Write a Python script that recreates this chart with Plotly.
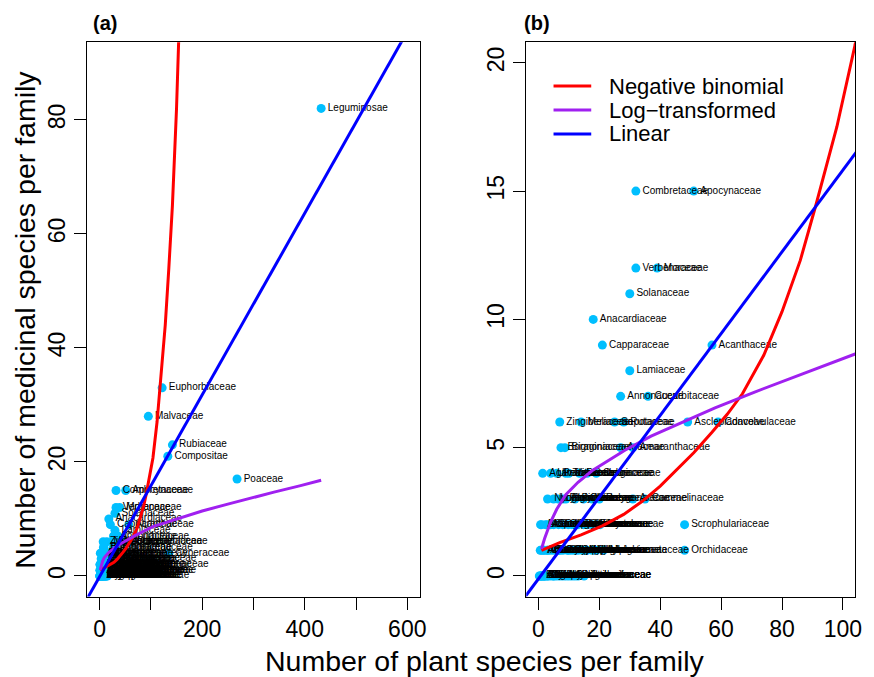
import plotly.graph_objects as go

W, H = 874, 677

# ---------------- data ----------------
families = [
    "Leguminosae", "Poaceae", "Rubiaceae", "Compositae", "Euphorbiaceae", "Malvaceae", "Cyperaceae",
    "Combretaceae", "Apocynaceae",
    "Verbenaceae", "Moraceae",
    "Solanaceae",
    "Anacardiaceae",
    "Capparaceae", "Acanthaceae",
    "Lamiaceae",
    "Annonaceae", "Cucurbitaceae",
    "Zingiberaceae", "Meliaceae", "Sapotaceae", "Rutaceae", "Asclepiadaceae", "Convolvulaceae",
    "Boraginaceae", "Bignoniaceae", "Araceae", "Amaranthaceae",
    "Agavaceae", "Pedaliaceae", "Vitaceae", "Plumbaginaceae", "Celastraceae", "Ochnaceae",
    "Ulmaceae", "Turneraceae",
    "Loganiaceae", "Lythraceae", "Polygalaceae", "Oleaceae", "Iridaceae", "Arecaceae", "Commelinaceae",
    "Nyctaginaceae", "Passifloraceae", "Proteaceae", "Polygonaceae",
    "Aloaceae", "Asparagaceae", "Chrysobalanaceae", "Dilleniaceae", "Lecythidaceae", "Rhamnaceae",
    "Opiliaceae", "Salicaceae", "Myrtaceae", "Scrophulariaceae",
    "Bromeliaceae", "Cecropiaceae", "Dioscoreaceae", "Gesneriaceae", "Piperaceae", "Portulacaceae",
    "Simaroubaceae", "Urticaceae",
    "Aizoaceae", "Amaryllidaceae", "Basellaceae", "Burseraceae", "Caryophyllaceae", "Crassulaceae",
    "Clusiaceae", "Icacinaceae", "Connaraceae", "Hypericaceae", "Lauraceae", "Melastomataceae", "Orchidaceae",
    "Apiaceae", "Cactaceae", "Chenopodiaceae", "Dichapetalaceae", "Ctenolophonaceae", "Erythroxylaceae",
    "Hippocrateaceae", "Irvingiaceae", "Liliaceae", "Malpighiaceae",
    "Balsaminaceae", "Begoniaceae", "Campanulaceae", "Dracaenaceae", "Ericaceae", "Gentianaceae",
    "Lentibulariaceae", "Marantaceae", "Nymphaeaceae", "Onagraceae", "Ranunculaceae", "Sterculiaceae",
    "Aristolochiaceae", "Bixaceae", "Cannaceae", "Costaceae", "Cycadaceae", "Droseraceae",
    "Ebenaceae", "Flacourtiaceae", "Hydrocharitaceae", "Loranthaceae", "Linaceae",
]
plants = [
    432, 268, 142, 133, 122, 95, 135,
    32, 51,
    32, 39,
    30,
    18,
    21, 57,
    30,
    27, 36,
    7, 14, 25, 28, 49, 59,
    7.4, 8.7, 27, 31,
    1.4, 6, 10, 13.5, 16, 19,
    4, 9,
    5, 6.5, 9, 14.8, 17.6, 31, 35,
    3, 8, 12, 20,
    0.7, 2.3, 4, 6.6, 9.8, 12, 14.8, 17.6, 20.3, 48,
    1, 3, 5, 8, 11, 13, 16, 19,
    0.6, 1.7, 3, 4, 6.6, 8, 9.5, 11, 12, 14.4, 17.6, 21.3, 48,
    1, 2, 3, 5, 7, 10, 13, 15, 16, 19,
    0.3, 1, 1.5, 2, 3, 4, 5, 6, 8, 10, 12, 15,
    0.5, 1, 1, 2, 2, 3, 5, 7, 9, 11, 13,
]
medicinal = [
    82, 17, 23, 21, 33, 28, 4,
    15, 15,
    12, 12,
    11,
    10,
    9, 9,
    8,
    7, 7,
    6, 6, 6, 6, 6, 6,
    5, 5, 5, 5,
    4, 4, 4, 4, 4, 4,
    4, 4,
    3, 3, 3, 3, 3, 3, 3,
    3, 3, 3, 3,
    2, 2, 2, 2, 2, 2, 2, 2, 2, 2,
    2, 2, 2, 2, 2, 2, 2, 2,
    1, 1, 1, 1, 1, 1, 1, 1, 1, 1, 1, 1, 1,
    1, 1, 1, 1, 1, 1, 1, 1, 1, 1,
    0, 0, 0, 0, 0, 0, 0, 0, 0, 0, 0, 0,
    0, 0, 0, 0, 0, 0, 0, 0, 0, 0, 0,
]

# fitted curves
nb_x = [1, 7, 14, 21, 28, 34, 40, 45, 51, 57, 62, 67, 74, 80, 86, 91, 98, 104,
        112, 120, 128, 135, 142, 150, 156, 162]
nb_y = [1.0, 1.3, 1.6, 1.95, 2.4, 2.9, 3.5, 4.1, 4.8, 5.6, 6.3, 7.1, 8.6, 10.3, 12.3, 14.4, 17.5, 20.7,
        27, 35, 44, 54, 65, 82, 97, 116]
log_x = [1, 2, 4, 6, 9, 13, 17.6, 23, 28.4, 37, 47, 58, 70.8, 85, 104,
         130, 160, 200, 250, 300, 340, 390, 432]
log_y = [1.05, 1.45, 2.1, 2.6, 3.17, 3.65, 4.1, 4.5, 4.9, 5.45, 5.96, 6.55, 7.16, 7.8, 8.65,
         9.4, 10.3, 11.4, 12.6, 13.8, 14.7, 15.8, 16.8]
lin_x = [-24, 104, 600]
lin_y = [-3.94, 16.45, 95.5]

series_names = ["Negative binomial", "Log\u2212transformed", "Linear"]
series_colors = ["#FF0000", "#A020F0", "#0000FF"]

xa_ticks = [0, 100, 200, 300, 400, 500, 600]
xa_text = ["0", "", "200", "", "400", "", "600"]
ya_ticks = [0, 20, 40, 60, 80]
xb_ticks = [0, 20, 40, 60, 80, 100]
yb_ticks = [0, 5, 10, 15, 20]

FONT = "Liberation Sans, Arial, Helvetica, sans-serif"

fig = go.Figure()
curves = [(nb_x, nb_y), (log_x, log_y), (lin_x, lin_y)]
for xa, ya in [("x", "y"), ("x2", "y2")]:
    fig.add_trace(go.Scatter(
        x=plants, y=medicinal, text=families, mode="markers+text",
        textposition="middle right",
        textfont=dict(family=FONT, size=10, color="black"),
        marker=dict(color="#00BFFF", size=9, line=dict(width=0)),
        xaxis=xa, yaxis=ya, hoverinfo="skip", showlegend=False))
    for (cx, cy), col, nm in zip(curves, series_colors, series_names):
        fig.add_trace(go.Scatter(
            x=cx, y=cy, mode="lines", name=nm,
            line=dict(color=col, width=3, shape="linear"),
            xaxis=xa, yaxis=ya, hoverinfo="skip", showlegend=False))

axis_common = dict(showline=True, linecolor="black", linewidth=1, mirror=True,
                   ticks="outside", ticklen=12, tickwidth=1, tickcolor="black",
                   showgrid=False, zeroline=False,
                   tickfont=dict(family=FONT, size=23, color="black"))

ydom = [1 - 596.5 / H, 1 - 42.3 / H]
fig.update_layout(
    width=W, height=H, autosize=False, margin=dict(l=0, r=0, t=0, b=0),
    paper_bgcolor="white", plot_bgcolor="white", showlegend=False,
    xaxis=dict(domain=[88 / W, 423 / W], range=[-24, 624], tickvals=xa_ticks, ticktext=xa_text,
               anchor="y", **axis_common),
    yaxis=dict(domain=ydom, range=[-3.6, 93.6], tickvals=ya_ticks, tickangle=-90,
               anchor="x", **axis_common),
    xaxis2=dict(domain=[530.5 / W, 862 / W], range=[-4, 104], tickvals=xb_ticks,
                anchor="y2", **axis_common),
    yaxis2=dict(domain=ydom, range=[-0.8, 20.8], tickvals=yb_ticks, tickangle=-90,
                anchor="x2", **axis_common),
)

ann = []
ann.append(dict(text="<b>(a)</b>", x=92 / W, y=1 - 23 / H, xref="paper", yref="paper",
                xanchor="left", yanchor="middle", showarrow=False,
                font=dict(family=FONT, size=20, color="black")))
ann.append(dict(text="<b>(b)</b>", x=526 / W, y=1 - 23 / H, xref="paper", yref="paper",
                xanchor="left", yanchor="middle", showarrow=False,
                font=dict(family=FONT, size=20, color="black")))
ann.append(dict(text="Number of plant species per family", x=489 / W, y=1 - 661 / H,
                xref="paper", yref="paper", xanchor="center", yanchor="middle", showarrow=False,
                font=dict(family=FONT, size=28.5, color="black")))
ann.append(dict(text="Number of medicinal species per family", x=25 / W, y=1 - 320 / H,
                xref="paper", yref="paper", xanchor="center", yanchor="middle", showarrow=False,
                textangle=-90, font=dict(family=FONT, size=28.5, color="black")))

shapes = []
leg_y = [86, 110, 134]
for ly, col, nm in zip(leg_y, series_colors, series_names):
    shapes.append(dict(type="line", xref="paper", yref="paper",
                       x0=558 / W, x1=596 / W, y0=1 - ly / H, y1=1 - ly / H,
                       line=dict(color=col, width=3)))
    ann.append(dict(text=nm, x=612 / W, y=1 - ly / H, xref="paper", yref="paper",
                    xanchor="left", yanchor="middle", showarrow=False,
                    font=dict(family=FONT, size=22, color="black")))

fig.update_layout(annotations=ann, shapes=shapes)
fig.write_html("out.html",
               config={"displayModeBar": False, "responsive": False},
               post_script="document.body.style.margin='0px';document.body.style.padding='0px';"
                           "document.body.style.overflow='hidden';"
                           "document.documentElement.style.overflow='hidden';")
